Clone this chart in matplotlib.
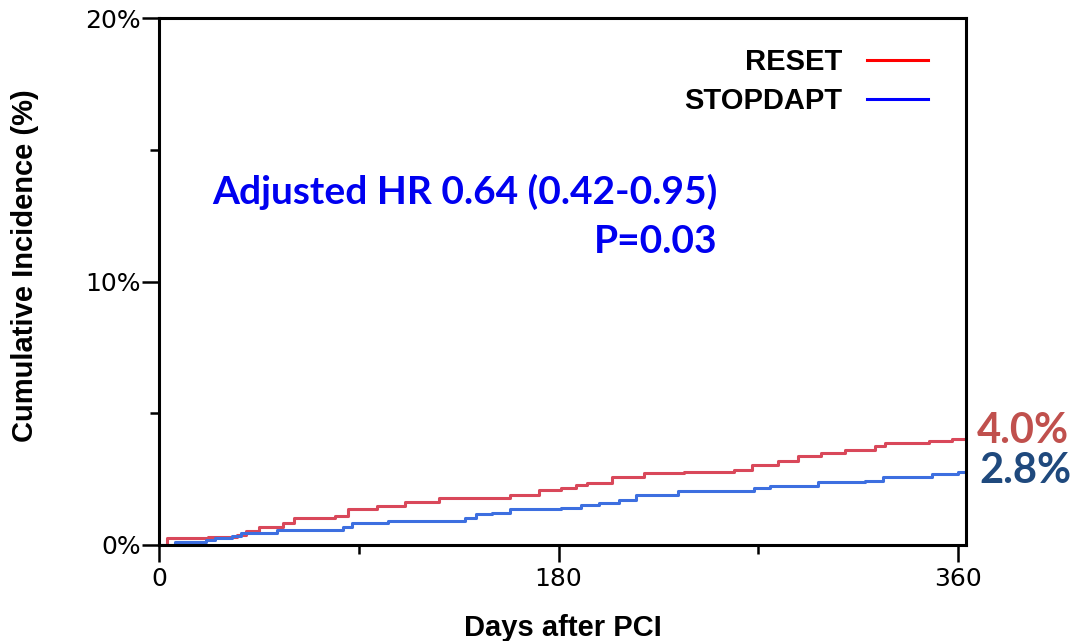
import matplotlib.pyplot as plt
from matplotlib.lines import Line2D

# cumulative incidence (days, %)
red_day = [0, 3.5, 22, 35, 39, 45, 56, 61, 79.5, 85, 98, 111, 126, 158, 171, 181, 188, 193, 204, 218.6,
           236.7, 259, 267, 279, 288, 298, 309, 322.5, 327, 347, 357, 364]
red_ci = [0, 0.25, 0.32, 0.38, 0.54, 0.69, 0.82, 1.01, 1.11, 1.35, 1.48, 1.64, 1.80, 1.90, 2.09, 2.15, 2.28,
          2.37, 2.57, 2.72, 2.78, 2.85, 3.04, 3.20, 3.38, 3.48, 3.60, 3.76, 3.88, 3.96, 4.02, 4.02]
blue_day = [0, 7, 21, 25, 33, 37, 53, 83, 87, 103, 138, 143, 150, 158, 181, 190, 198, 207, 215, 234,
            268, 275, 297, 318, 326, 348, 360, 364]
blue_ci = [0, 0.13, 0.19, 0.28, 0.35, 0.44, 0.57, 0.69, 0.85, 0.92, 1.04, 1.16, 1.23, 1.37, 1.42, 1.52,
           1.58, 1.71, 1.90, 2.05, 2.15, 2.24, 2.38, 2.44, 2.57, 2.69, 2.78, 2.78]

groups = ['RESET', 'STOPDAPT']
final_txt = ['4.0%', '2.8%']
x_ticks = [0, 180, 360]
y_ticks = [0, 10, 20]
y_labels = ['0%', '10%', '20%']

fig = plt.figure(figsize=(10.8, 6.41), dpi=100)
ax = fig.add_axes([159 / 1080, 96 / 641, 807 / 1080, 527 / 641])

ax.step(red_day, red_ci, where='post', color='#d9485a', lw=2.2)
ax.step(blue_day, blue_ci, where='post', color='#3d6fe0', lw=2.2)

ax.set_xlim(0, 363.5)
ax.set_ylim(0, 20)
ax.set_xticks(x_ticks)
ax.set_xticks([90, 270], minor=True)
ax.set_yticks(y_ticks)
ax.set_yticklabels(y_labels)
ax.set_yticks([5, 15], minor=True)
for s in ax.spines.values():
    s.set_linewidth(2.2)
ax.tick_params(which='major', length=12, width=1.8, direction='out')
ax.tick_params(which='minor', length=6.5, width=1.8, direction='out')
ax.tick_params(axis='x', labelsize=18, pad=4)
ax.tick_params(axis='y', labelsize=18, pad=1)

lab_font = dict(family='Liberation Sans', weight='bold', size=21)
ax.set_xlabel('Days after PCI', va='top', **lab_font)
ax.xaxis.set_label_coords(0.5, -0.13)
ax.set_ylabel('Cumulative Incidence (%)', **lab_font)
ax.yaxis.set_label_coords(-0.149, 0.531)

handles = [Line2D([], [], color='#ff0000', lw=2.2), Line2D([], [], color='#0000ff', lw=2.2)]
ax.legend(handles, groups, loc='upper right', bbox_to_anchor=(928 / 1080, 593 / 641),
          bbox_transform=fig.transFigure, frameon=False, markerfirst=False,
          handlelength=2.1, handletextpad=0.85, labelspacing=0.37, borderpad=0, borderaxespad=0,
          prop=dict(family='Liberation Sans', weight='bold', size=21))

ann = dict(family='Lato', weight='bold', size=28, color='#0000f0', ha='right', va='baseline')
ax.text(251.7, 12.95, 'Adjusted HR 0.64 (0.42-0.95)', **ann)
ax.text(251.7, 11.08, 'P=0.03', **ann)

fin = dict(family='Lato', weight='bold', size=30, ha='left', va='baseline', clip_on=False)
ax.text(368.5, 3.87, final_txt[0], color='#c0504d', **fin)
ax.text(369.5, 2.35, final_txt[1], color='#1f497d', **fin)

fig.savefig('out.png', dpi=100)
